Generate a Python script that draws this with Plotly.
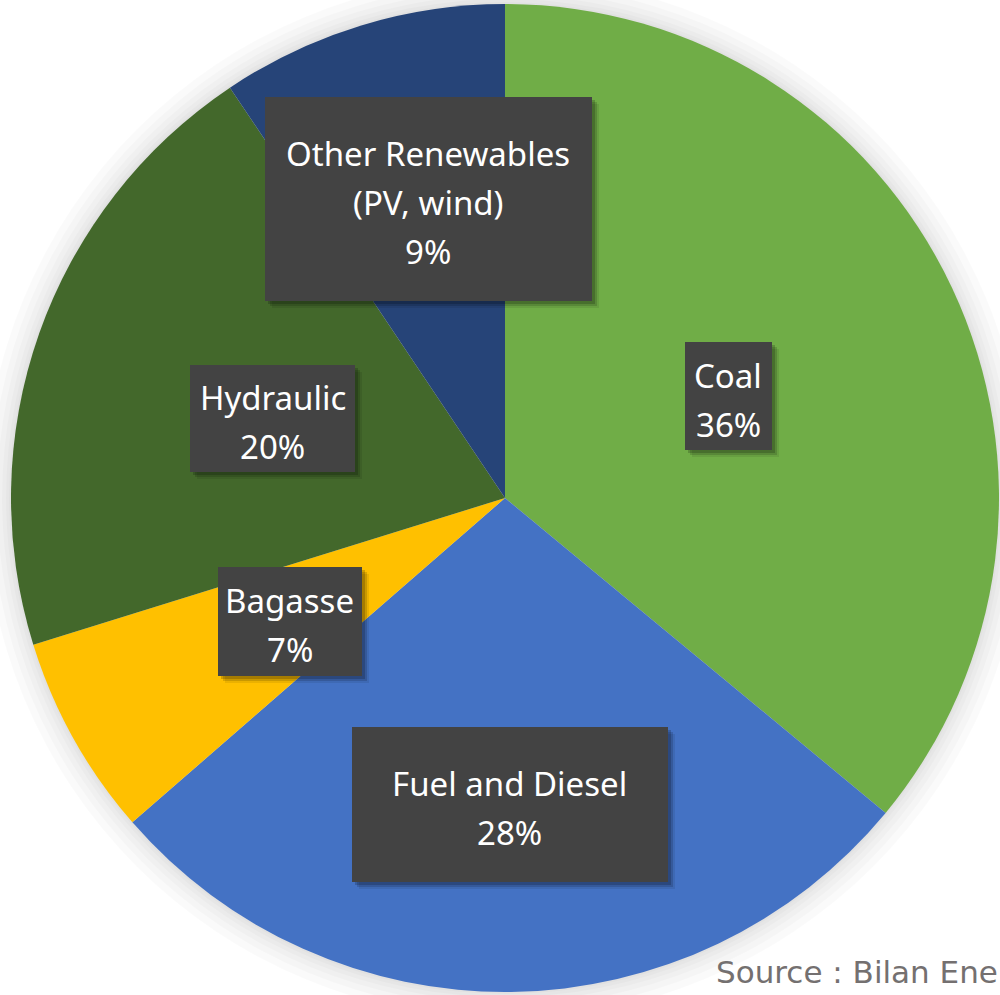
import math
import plotly.graph_objects as go

# Electricity production mix (share of total, %)
categories = ["Coal", "Fuel and Diesel", "Bagasse", "Hydraulic", "Other Renewables (PV, wind)"]
label_lines = [["Coal"], ["Fuel and Diesel"], ["Bagasse"], ["Hydraulic"], ["Other Renewables", "(PV, wind)"]]
shares = [36.0, 27.6, 6.6, 20.4, 9.4]
colors = ["#70AD47", "#4472C4", "#FFC000", "#43682B", "#264478"]
source_text = "Source : Bilan Ene"

W, H = 1000, 995
dom_x = [0.011, 0.999]
dom_y = [0.003, 0.996]

fig = go.Figure(go.Pie(
    labels=categories,
    values=shares,
    sort=False,
    direction="clockwise",
    rotation=0,
    marker=dict(colors=colors, line=dict(width=0)),
    textinfo="none",
    hoverinfo="label+percent",
    showlegend=False,
    domain=dict(x=dom_x, y=dom_y),
))

# pie geometry in pixels (top-left origin)
cx = (dom_x[0] + dom_x[1]) / 2 * W
cy = (1 - (dom_y[0] + dom_y[1]) / 2) * H
R = min((dom_x[1] - dom_x[0]) * W, (dom_y[1] - dom_y[0]) * H) / 2

shapes = []
# soft halo around the pie
for extra in [2, 5, 9, 14, 20, 27]:
    r = R + extra
    shapes.append(dict(
        type="circle", xref="paper", yref="paper", layer="below",
        x0=(cx - r) / W, x1=(cx + r) / W,
        y0=1 - (cy + r) / H, y1=1 - (cy - r) / H,
        fillcolor="rgba(0,0,0,0.018)", line=dict(width=0),
    ))

# data-label boxes: radial placement factor, angle nudge (deg), box size (px)
radial = [0.497, 0.62, 0.502, 0.497, 0.625]
nudge = [0.7, -0.2, -0.7, -0.5, 2.5]
box_w = [87, 316, 144, 165, 327]
box_h = [108, 155, 109, 107, 204]
line_gap = 49
font_family = "Noto Sans, Open Sans, sans-serif"

annotations = []
total = sum(shares)
cum = 0.0
for i, v in enumerate(shares):
    mid = (cum + v / 2) / total * 360 + nudge[i]
    cum += v
    th = math.radians(mid)
    px = cx + radial[i] * R * math.sin(th)
    py = cy - radial[i] * R * math.cos(th)
    ax, ay = px / W, 1 - py / H
    box = dict(x=ax, y=ay, xref="paper", yref="paper", text=" ", showarrow=False,
               xanchor="center", yanchor="middle",
               width=box_w[i], height=box_h[i], borderpad=0, borderwidth=0)

    # drop shadow
    for off, a in [(3, 0.18), (5, 0.14), (7, 0.08)]:
        annotations.append(dict(box, bgcolor=f"rgba(0,0,0,{a})", xshift=off, yshift=-off))
    # box
    annotations.append(dict(box, bgcolor="#434343"))
    # text lines
    lines = label_lines[i] + [f"{round(v / total * 100)}%"]
    n = len(lines)
    for k, t in enumerate(lines):
        dy = (k - (n - 1) / 2) * line_gap + 4
        annotations.append(dict(
            x=ax, y=ay, xref="paper", yref="paper", text=t, showarrow=False,
            font=dict(family=font_family, size=33, color="white"),
            xanchor="center", yanchor="middle", yshift=-dy,
        ))

annotations.append(dict(
    x=714 / W, y=1 - 972 / H, xref="paper", yref="paper", text=source_text,
    showarrow=False, xanchor="left", yanchor="middle",
    font=dict(family="DejaVu Sans, sans-serif", size=31, color="#747070"),
))

fig.update_layout(
    width=W, height=H,
    margin=dict(l=0, r=0, t=0, b=0),
    paper_bgcolor="white",
    plot_bgcolor="white",
    shapes=shapes,
    annotations=annotations,
)

fig.write_html("out.html")
